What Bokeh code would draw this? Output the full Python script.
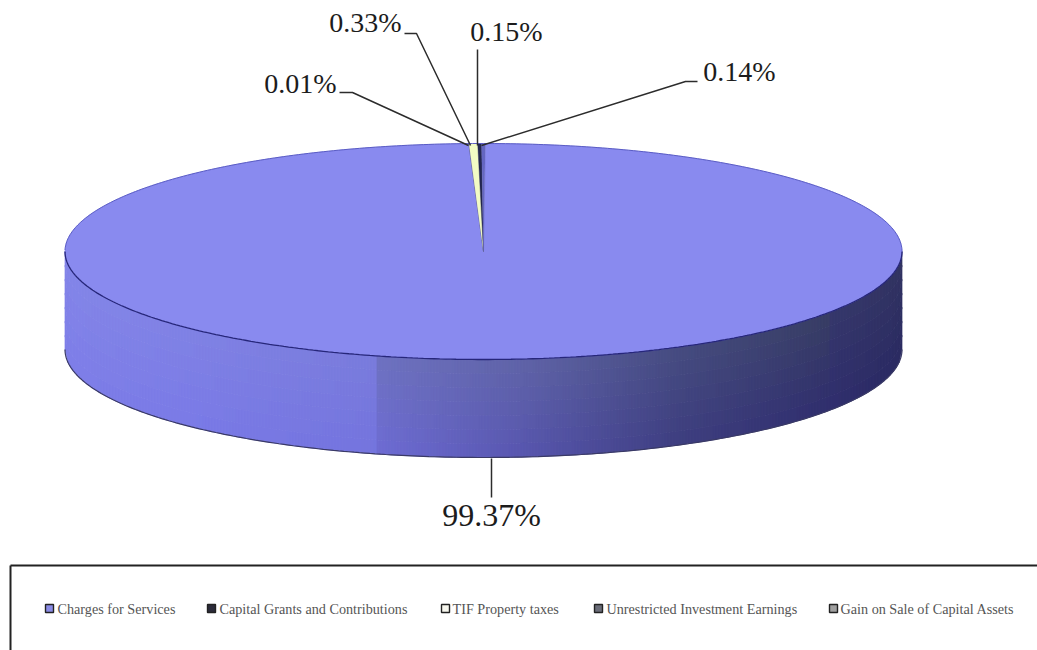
import math
from bokeh.embed import file_html
from bokeh.models import Range1d
from bokeh.plotting import figure
from bokeh.resources import INLINE
from bokeh.core.properties import value

# Revenue shares in percent, clockwise from twelve o'clock
categories = ["Charges for Services", "Capital Grants and Contributions", "TIF Property taxes",
              "Unrestricted Investment Earnings", "Gain on Sale of Capital Assets"]
shares = [99.37, 0.01, 0.33, 0.15, 0.14]
share_labels = ["99.37%", "0.01%", "0.33%", "0.15%", "0.14%"]
slice_colors = ["#898aef", "#20226a", "#f2fbc4", "#23264f", "#6466c0"]
swatch_colors = ["#8a8be6", "#2b2b3a", "#f7f7ee", "#6a6c78", "#a0a0a0"]

W, H = 1037, 650
CX, CY, RX, RY = 483.0, 251.0, 418.5, 108.0
DEPTH = 98.0
START_DEG = 0.25
SERIF = value("Liberation Serif")

p = figure(width=W, height=H, output_backend="svg", toolbar_location=None,
           x_range=Range1d(0, W), y_range=Range1d(H, 0), min_border=0,
           background_fill_color="white", border_fill_color="white")
p.axis.visible = False
p.grid.visible = False
p.outline_line_color = None


def lerp(a, b, t):
    return a + (b - a) * t


def mix(stops, x):
    """Interpolate an RGB colour along (x, rgb) stops."""
    for (x0, c0), (x1, c1) in zip(stops, stops[1:]):
        if x0 <= x <= x1:
            t = (x - x0) / (x1 - x0)
            return tuple(lerp(c0[i], c1[i], t) for i in range(3))
    return stops[-1][1]


# Shading of the pie's wall: colours along the top and the bottom of the rim
top_stops = [(65, (132, 134, 232)), (200, (128, 130, 228)), (375, (122, 124, 220)),
             (376, (110, 114, 192)), (520, (96, 100, 168)), (680, (70, 76, 128)),
             (829, (56, 62, 100)), (830, (54, 56, 108)), (901, (50, 52, 98))]
bot_stops = [(65, (126, 126, 232)), (200, (122, 122, 230)), (375, (116, 116, 222)),
             (376, (110, 108, 212)), (520, (88, 86, 176)), (680, (62, 62, 128)),
             (829, (48, 46, 110)), (901, (42, 42, 98))]

STEP, ROWS = 3.0, 7
xs_cells, ys_cells, cell_colors = [], [], []
x = CX - RX
while x < CX + RX:
    x2 = min(x + STEP, CX + RX)
    rim = lambda u: CY + RY * math.sqrt(max(0.0, 1 - ((u - CX) / RX) ** 2))
    y_a, y_b = rim(x), rim(x2)
    mid = (x + x2) / 2
    c_top, c_bot = mix(top_stops, mid), mix(bot_stops, mid)
    for r in range(ROWS):
        f0, f1 = r / ROWS, (r + 1) / ROWS
        xs_cells.append([x, x2, x2, x])
        ys_cells.append([y_a + DEPTH * f0, y_b + DEPTH * f0, y_b + DEPTH * f1, y_a + DEPTH * f1])
        t = (r + 0.5) / ROWS
        c = tuple(int(round(lerp(c_top[i], c_bot[i], t))) for i in range(3))
        cell_colors.append("#%02x%02x%02x" % c)
    x = x2
p.patches(xs_cells, ys_cells, fill_color=cell_colors, line_color=cell_colors, line_width=0.7)

# Bottom contour of the wall
ts = [math.pi * i / 240 for i in range(241)]
p.line([CX + RX * math.cos(t) for t in ts], [CY + DEPTH + RY * math.sin(t) for t in ts],
       line_color="#3a3a66", line_width=1.2)


def slice_outline(a0, a1):
    """Slice of the top face between two clockwise angles measured from twelve o'clock."""
    n = max(2, int(abs(a1 - a0) * 120))
    pts = [a0 + (a1 - a0) * i / n for i in range(n + 1)]
    return ([CX] + [CX + RX * math.sin(a) for a in pts],
            [CY] + [CY - RY * math.cos(a) for a in pts])


# Top face: each slice's sweep comes straight from its share
total = sum(shares)
angle = math.radians(START_DEG)
for share, color in zip(shares, slice_colors):
    sweep = 2 * math.pi * share / total
    sx, sy = slice_outline(angle, angle + sweep)
    p.patch(sx, sy, fill_color=color, line_color=color, line_width=0.4)
    angle += sweep

# Rim of the top face
ts = [2 * math.pi * i / 480 for i in range(481)]
p.line([CX + RX * math.cos(t) for t in ts if t <= math.pi], [CY + RY * math.sin(t) for t in ts if t <= math.pi],
       line_color="#26267a", line_width=1.3)
p.line([CX + RX * math.cos(t) for t in ts if t >= math.pi], [CY + RY * math.sin(t) for t in ts if t >= math.pi],
       line_color="#5a5cc4", line_width=1.0)

# Leader lines and percentage labels
leaders = [
    ([491, 491], [458, 497]),
    ([339, 352, 468], [92, 92, 145]),
    ([404, 416, 470], [33, 33, 145]),
    ([477, 477], [49, 145]),
    ([697, 685, 481], [81, 81, 145]),
]
for lx, ly in leaders:
    p.line(lx, ly, line_color="#2c2c2c", line_width=1.5)

label_x = [491, 300, 365, 506, 739]
label_y = [514, 83, 22, 31, 71]
label_size = ["32px", "28px", "28px", "28px", "28px"]
p.text(label_x, label_y, text=share_labels, text_font=SERIF, text_font_size=label_size,
       text_color="#1c1c1c", text_align="center", text_baseline="middle")

# Legend frame runs off the right and bottom of the page
p.line([10, 10], [565, H], line_color="#222222", line_width=2)
p.line([10, W], [565, 565], line_color="#222222", line_width=2)

swatch_x = [49, 211, 445, 598, 833]
text_x = [57, 219, 452, 606, 840]
legend_y = 608
p.scatter(swatch_x, [legend_y] * 5, marker="square", size=8, fill_color=swatch_colors,
          line_color="#222222", line_width=1.4)
p.text(text_x, [legend_y] * 5, text=categories, text_font=SERIF, text_font_size="14.2px",
       text_color="#555555", text_align="left", text_baseline="middle")

open("out.html", "w").write(file_html(p, INLINE))
